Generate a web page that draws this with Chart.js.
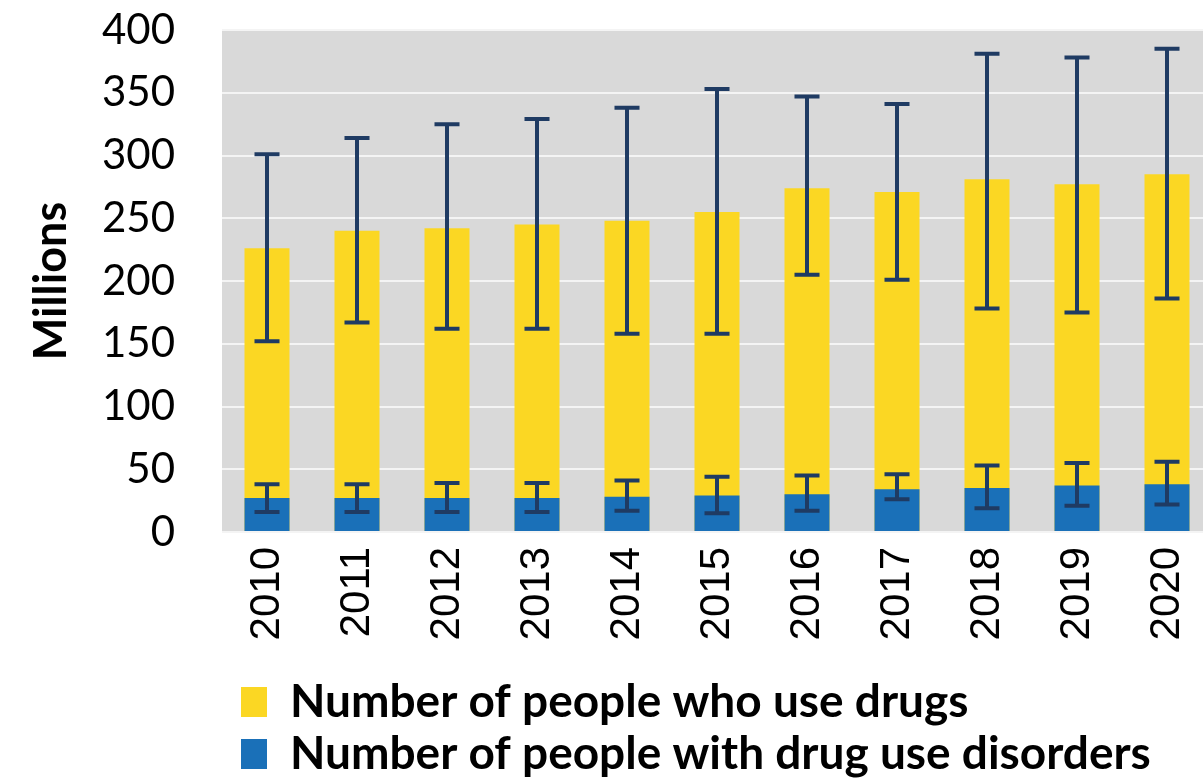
<!DOCTYPE html>
<html>
<head>
<meta charset="utf-8">
<script src="https://cdn.jsdelivr.net/npm/chart.js@4/dist/chart.umd.min.js"></script>
<style>
  html, body { margin: 0; padding: 0; background: #fff; overflow: hidden; }
  #wrap { width: 1212px; height: 787px; }
</style>
</head>
<body>
<div id="wrap"><canvas id="drugChart"></canvas></div>
<script>
const years = ['2010', '2011', '2012', '2013', '2014', '2015', '2016', '2017', '2018', '2019', '2020'];

const peopleWhoUse = [226, 240, 242, 245, 248, 255, 274, 271, 281, 277, 285];
const peopleWhoUseHigh = [301, 314, 325, 329, 338, 353, 347, 341, 381, 378, 385];
const peopleWhoUseLow = [152, 167, 162, 162, 158, 158, 205, 201, 178, 175, 186];

const disorders = [27, 27, 27, 27, 28, 29, 30, 34, 35, 37, 38];
const disordersHigh = [38, 38, 39, 39, 41, 44, 45, 46, 53, 55, 56];
const disordersLow = [16, 16, 16, 16, 17, 15, 17, 26, 19, 21, 22];

const yTicks = [0, 50, 100, 150, 200, 250, 300, 350, 400];

// grey plot background
const plotBg = {
    id: 'plotBg',
    beforeDraw(chart) {
        const { ctx, chartArea: a } = chart;
        ctx.save();
        ctx.fillStyle = '#d9d9d9';
        ctx.fillRect(a.left, a.top, a.right - a.left, a.bottom - a.top);
        ctx.restore();
    }
};

// error bars drawn with the y scale
const errorBars = {
    id: 'errorBars',
    afterDatasetsDraw(chart) {
        const { ctx, scales: { y } } = chart;
        const ranges = [[peopleWhoUseLow, peopleWhoUseHigh], [disordersLow, disordersHigh]];
        ctx.save();
        ctx.strokeStyle = '#1f3b63';
        ctx.lineWidth = 4;
        ranges.forEach((r, di) => {
            chart.getDatasetMeta(di).data.forEach((bar, i) => {
                const lo = y.getPixelForValue(r[0][i]);
                const hi = y.getPixelForValue(r[1][i]);
                const x = bar.x;
                ctx.beginPath();
                ctx.moveTo(x, lo); ctx.lineTo(x, hi);
                ctx.moveTo(x - 12.5, lo); ctx.lineTo(x + 12.5, lo);
                ctx.moveTo(x - 12.5, hi); ctx.lineTo(x + 12.5, hi);
                ctx.stroke();
            });
        });
        ctx.restore();
    }
};

// move the legend to line up with the reference
const legendShift = {
    id: 'legendShift',
    afterLayout(chart) {
        chart.legend.left += 13;
    }
};

const ctx = document.getElementById('drugChart').getContext('2d');
new Chart(ctx, {
    type: 'bar',
    data: {
        labels: years,
        datasets: [
            {
                label: 'Number of people who use drugs',
                data: peopleWhoUse,
                backgroundColor: '#fbd723',
                order: 1
            },
            {
                label: 'Number of people with drug use disorders',
                data: disorders,
                backgroundColor: '#1a70b8',
                order: 0
            }
        ]
    },
    options: {
        responsive: true,
        maintainAspectRatio: false,
        animation: false,
        layout: { padding: { top: 30, left: 20, right: 0, bottom: 0 } },
        datasets: {
            bar: { grouped: false, barPercentage: 0.5, categoryPercentage: 1.0 }
        },
        plugins: {
            legend: {
                display: true,
                position: 'bottom',
                align: 'start',
                fullSize: false,
                labels: {
                    sort: (a, b) => a.datasetIndex - b.datasetIndex,
                    boxWidth: 26,
                    boxHeight: 30,
                    padding: 6,
                    color: '#000',
                    font: { family: 'Lato', weight: 'bold', size: 46 }
                }
            },
            tooltip: { enabled: false }
        },
        scales: {
            x: {
                grid: { display: false, drawTicks: false },
                border: { display: false },
                ticks: {
                    color: '#000',
                    padding: 15,
                    minRotation: 90,
                    maxRotation: 90,
                    font: { family: 'Liberation Sans', size: 42 }
                },
                afterFit(scale) {
                    scale.height = 141;
                    scale.paddingLeft = 0;
                    scale.paddingRight = 0;
                }
            },
            y: {
                min: 0,
                max: 400,
                afterBuildTicks(scale) { scale.ticks = yTicks.map(v => ({ value: v })); },
                grid: { color: '#f4f4f4', lineWidth: 2, drawTicks: false },
                border: { display: false },
                ticks: {
                    color: '#000',
                    padding: 47,
                    font: { family: 'Lato', size: 42 }
                },
                title: {
                    display: true,
                    text: 'Millions',
                    color: '#000',
                    padding: { top: 4, bottom: 4 },
                    font: { family: 'Lato', weight: 'bold', size: 45 }
                },
                afterFit(scale) {
                    scale.width = 202;
                    scale.paddingTop = 0;
                    scale.paddingBottom = 0;
                }
            }
        }
    },
    plugins: [plotBg, errorBars, legendShift]
});
</script>
</body>
</html>
